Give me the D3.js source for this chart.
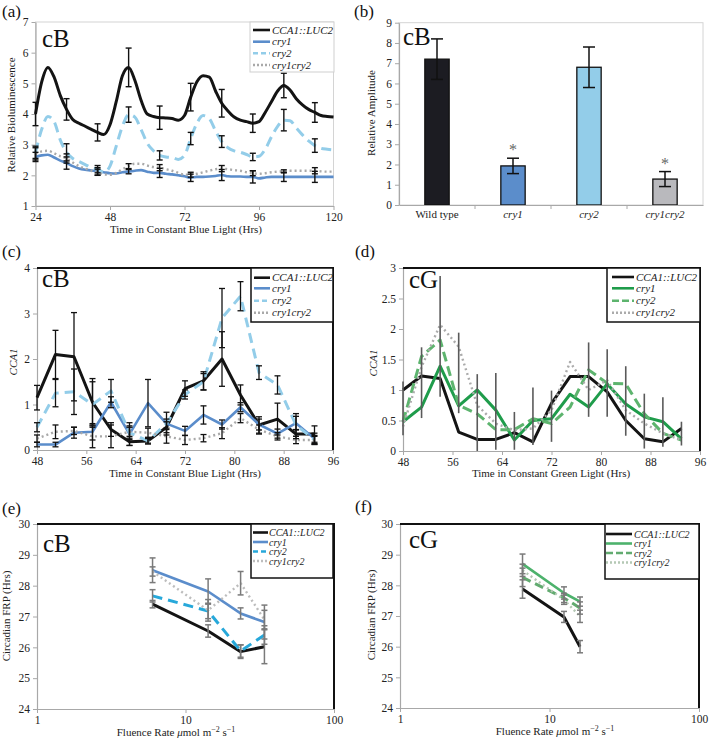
<!DOCTYPE html>
<html><head><meta charset="utf-8">
<script src="https://cdnjs.cloudflare.com/ajax/libs/d3/7.8.5/d3.min.js"></script>
<style>body{margin:0;background:#fff}svg{display:block}
svg text{font-family:"Liberation Serif","Times New Roman",Times,serif !important}</style>
</head><body>
<script>
// ---------------- DATA ----------------
const seriesNames = ["CCA1::LUC2", "cry1", "cry2", "cry1cry2"];

// (a) bioluminescence, constant blue light
const timeA = [24,26,28,30,32,34,36,38,40,42,44,46,48,50,52,54,56,58,60,62,64,66,68,70,72,74,76,78,80,82,84,86,88,90,92,94,96,98,100,102,104,106,108,110,112,114,116,118,120];
const wtA   = [4.0,5.05,5.52,5.2,4.6,4.15,3.82,3.7,3.6,3.5,3.4,3.33,3.65,4.4,5.25,5.52,5.1,4.45,4.0,3.92,3.88,3.87,3.85,3.8,3.95,4.55,5.05,5.25,5.2,4.75,4.35,4.1,3.9,3.8,3.75,3.7,3.75,4.05,4.4,4.75,4.93,4.78,4.5,4.3,4.15,4.05,3.95,3.92,3.9];
const cry1A = [2.6,2.65,2.67,2.58,2.48,2.4,2.3,2.22,2.18,2.16,2.13,2.1,2.07,2.06,2.1,2.12,2.15,2.17,2.12,2.08,2.08,2.05,2.03,2.0,1.97,1.92,1.95,1.95,1.96,1.98,2.01,1.97,1.96,1.96,1.95,1.95,1.9,1.93,1.95,1.95,1.95,1.95,1.95,1.95,1.95,1.95,1.95,1.95,1.95];
const cry2A = [2.75,3.5,3.92,3.75,3.15,2.75,2.55,2.45,2.35,2.25,2.2,2.1,2.3,2.95,3.6,3.98,3.9,3.5,3.05,2.8,2.65,2.6,2.58,2.52,2.65,3.2,3.7,3.95,3.85,3.45,3.1,2.9,2.8,2.75,2.68,2.6,2.62,2.85,3.25,3.6,3.8,3.78,3.55,3.32,3.12,2.97,2.88,2.85,2.83];
const dblA  = [2.7,2.78,2.8,2.72,2.62,2.55,2.42,2.3,2.22,2.15,2.1,2.03,2.02,2.08,2.2,2.3,2.38,2.38,2.32,2.27,2.25,2.2,2.15,2.08,2.02,2.02,2.05,2.1,2.15,2.2,2.22,2.2,2.17,2.15,2.1,2.07,2.05,2.07,2.1,2.12,2.13,2.15,2.15,2.15,2.15,2.15,2.13,2.12,2.12];
const errTimeA = [24,34,44,54,64,74,84,94,104,114];
const errWtA   = [0.38,0.35,0.28,0.63,0.38,0.45,0.45,0.3,0.4,0.32];
const errCry1A = [0.15,0.2,0.12,0.07,0.15,0.12,0.18,0.2,0.15,0.18];
const errCry2A = [0.2,0.28,0.12,0.25,0.15,0.2,0.19,0.12,0.35,0.22];
const errDblA  = [0.2,0.15,0.1,0.08,0.1,0.08,0.1,0.08,0.05,0.1];
const xTicksA = [24,48,72,96,120];
const yTicksA = [1,2,3,4,5,6,7];

// (b) relative amplitude
const genotypesB = ["Wild type", "cry1", "cry2", "cry1cry2"];
const ampB = [7.2, 1.93, 6.8, 1.28];
const errAmpB = [1.0, 0.38, 1.0, 0.37];
const sigB = [false, true, false, true];
const yTicksB = [0,1,2,3,4,5,6,7,8,9];

// (c) CCA1, constant blue light
const timeC = [48,51,54,57,60,63,66,69,72,75,78,81,84,87,90,93];
const wtC   = [1.15,2.1,2.05,1.05,0.45,0.18,0.2,0.5,1.35,1.52,2.0,1.21,0.55,0.68,0.35,0.35];
const cry1C = [0.12,0.12,0.38,0.4,1.05,0.35,1.03,0.58,0.42,0.77,0.56,0.94,0.56,0.36,0.59,0.25];
const cry2C = [0.5,1.25,1.28,1.0,1.3,0.38,0.2,0.58,1.22,1.5,2.9,3.38,1.7,1.43,0.55,0.22];
const dblC  = [0.25,0.4,0.42,0.3,0.3,0.4,0.38,0.3,0.22,0.26,0.37,0.7,0.45,0.3,0.22,0.22];
const errWtC   = [0.27,0.53,0.97,0.52,0.15,0.08,0.07,0.12,0.17,0.2,0.6,0.22,0.18,0.35,0.1,0.18];
const errCry1C = [0.05,0.05,0.12,0.18,0.12,0.25,0.52,0.25,0.1,0.2,0.1,0.1,0.12,0.1,0.15,0.12];
const errCry2C = [0.1,0.3,0.5,0.5,0.25,0.15,0.05,0.1,0.1,0.18,0.65,0.32,0.15,0.2,0.25,0.1];
const errDblC  = [0.08,0.15,0.08,0.25,0.25,0.1,0.1,0.15,0.1,0.08,0.12,0.1,0.1,0.08,0.08,0.08];
const xTicksCD = [48,56,64,72,80,88,96];
const yTicksC = [0,1,2,3,4];

// (d) CCA1, constant green light
const timeD = [48,51,54,57,60,63,66,69,72,75,78,81,84,87,90,93];
const wtD   = [1.0,1.23,1.19,0.31,0.19,0.19,0.3,0.15,0.78,1.22,1.22,0.97,0.5,0.2,0.15,0.37];
const cry1D = [0.48,0.72,1.39,0.74,1.0,0.67,0.18,0.5,0.53,0.93,0.72,1.1,0.77,0.56,0.48,0.2];
const cry2D = [0.48,1.55,1.82,0.75,0.61,0.35,0.35,0.53,0.45,0.72,1.33,1.11,1.1,0.61,0.29,0.18];
const dblD  = [0.4,1.38,2.07,1.71,0.75,0.45,0.34,0.37,0.67,1.46,1.0,1.16,0.67,0.45,0.29,0.18];
const errLowD  = [0.26,0.54,0.89,0.62,0.0,0.02,0.02,0.1,0.15,null,0.56,0.56,0.25,0.04,0.07,0.09];
const errHighD = [1.14,1.70,2.87,1.94,1.26,1.28,0.64,1.04,0.99,null,1.78,1.67,1.39,0.94,0.88,0.48];
const yTicksD = [0,0.5,1,1.5,2,2.5,3];

// (e) FRP, blue light
const fluenceE = [6, 14.2, 23.5, 34];
const wtE   = [27.4, 26.53, 25.86, 26.02];
const cry1E = [28.5, 27.81, 27.1, 26.82];
const cry2E = [27.67, 27.18, 25.88, 26.4];
const dblE  = [28.46, 27.2, 28.08, 26.9];
const errWtE   = [0.12, 0.2, 0.22, 0.55];
const errCry1E = [0.4, 0.41, 0.18, 0.55];
const errCry2E = [0.2, 0.25, 0.2, 0.3];
const errDblE  = [0.15, 0.35, 0.38, 0.3];

// (f) FRP, green light
const fluenceF = [6.6, 12.5, 16];
const wtF   = [27.88, 26.97, 26.0];
const cry1F = [28.7, 27.75, 27.47];
const cry2F = [28.26, 27.59, 27.26];
const dblF  = [28.49, 27.53, 26.99];
const errWtF   = [0.3, 0.18, 0.2];
const errCry1F = [0.32, 0.2, 0.15];
const errCry2F = [0.3, 0.15, 0.2];
const errDblF  = [0.2, 0.15, 0.2];
const xTicksEF = [1, 10, 100];
const yTicksEF = [24,25,26,27,28,29,30];

// ---------------- DRAWING ----------------
const SERIF = '"Liberation Serif","Times New Roman",Times,serif';
const svg = d3.select("body").append("svg").attr("width", 709).attr("height", 742)
  .attr("font-family", "Liberation Serif, serif");

const AXIS_COL = "#a8a8a8";

const blueStyles = [
  {color:"#141414", w:3, dash:null, ldash:null},
  {color:"#5b8dcb", w:2.6, dash:null, ldash:null},
  {color:"#93cde9", w:3, dash:"10,6", ldash:"5,3"},
  {color:"#a9a9a9", w:2.4, dash:"2,3", ldash:"2,2"}
];
const greenStyles = [
  {color:"#141414", w:3, dash:null, ldash:null},
  {color:"#1f9c4b", w:3, dash:null, ldash:null},
  {color:"#5db46e", w:3, dash:"10,5", ldash:"7,3"},
  {color:"#ababab", w:2.4, dash:"2,3", ldash:"2,2"}
];
const blueStylesE = [
  {color:"#141414", w:3, dash:null, ldash:null},
  {color:"#5b8dcb", w:2.6, dash:null, ldash:null},
  {color:"#27a8da", w:3, dash:"10,6", ldash:"5,3"},
  {color:"#bdbdbd", w:2.4, dash:"2,3", ldash:"2,2"}
];
const greenStylesF = [
  {color:"#141414", w:3, dash:null, ldash:null},
  {color:"#4db26c", w:2.6, dash:null, ldash:null},
  {color:"#62ab70", w:3, dash:"9,5", ldash:"7,3"},
  {color:"#b4c8b4", w:2.4, dash:"2,3", ldash:"2,2"}
];

function styleAxis(g) {
  g.attr("font-family", null);
  g.select(".domain").attr("stroke", AXIS_COL).attr("stroke-width", 1.2);
  g.selectAll(".tick line").attr("stroke", AXIS_COL);
  g.selectAll(".tick text").attr("fill", "#222").style("font-size", "11.5px");
}

function frame(r, color, width, full) {
  const g = svg.append("g");
  if (full) {
    g.append("rect").attr("x", r.x0).attr("y", r.y0).attr("width", r.x1 - r.x0).attr("height", r.y1 - r.y0)
      .attr("fill", "none").attr("stroke", color).attr("stroke-width", width);
  } else {
    g.append("path").attr("d", `M${r.x0},${r.y0}H${r.x1}V${r.y1}`)
      .attr("fill", "none").attr("stroke", color).attr("stroke-width", width);
  }
}

function axes(r, x, y, xTicks, yTicks, xFmt, yFmt) {
  const gy = svg.append("g").attr("transform", `translate(${r.x0},0)`)
    .call(d3.axisLeft(y).tickValues(yTicks).tickSize(4).tickSizeOuter(0).tickFormat(yFmt));
  styleAxis(gy);
  if (xTicks) {
    const gx = svg.append("g").attr("transform", `translate(0,${r.y1})`)
      .call(d3.axisBottom(x).tickValues(xTicks).tickSize(4).tickSizeOuter(0).tickFormat(xFmt));
    styleAxis(gx);
  }
}

function titles(r, xTitle, xTitleX, xTitleY, yTitle, yTitleX, yTitleY, yItalic) {
  if (xTitle) svg.append("text").attr("x", xTitleX).attr("y", xTitleY).attr("text-anchor", "middle")
    .style("font-size", "11px").attr("fill", "#222").text(xTitle);
  svg.append("text").attr("transform", `translate(${yTitleX},${yTitleY}) rotate(-90)`)
    .attr("text-anchor", "middle").style("font-size", "11px").attr("fill", "#222")
    .style("font-style", yItalic ? "italic" : "normal").text(yTitle);
}

function tag(x, y, s) {
  svg.append("text").attr("x", x).attr("y", y).style("font-size", "25px").attr("fill", "#111").text(s);
}
function letter(x, y, s) {
  svg.append("text").attr("x", x).attr("y", y).style("font-size", "17px").attr("fill", "#111").text(s);
}

function drawLines(xs, seriesList, styles, x, y, curve) {
  const line = d3.line().x((d, i) => x(xs[i])).y(d => y(d)).curve(curve || d3.curveLinear);
  seriesList.forEach((s, k) => {
    const st = styles[k];
    svg.append("path").datum(s).attr("d", line).attr("fill", "none")
      .attr("stroke", st.color).attr("stroke-width", st.w)
      .attr("stroke-linejoin", "round")
      .attr("stroke-dasharray", st.dash);
  });
}

function errBars(xsE, centers, errs, x, y, color, cap, width) {
  const g = svg.append("g").attr("stroke", color).attr("stroke-width", width || 1.5).attr("fill", "none");
  xsE.forEach((t, i) => {
    const c = centers[i], e = errs[i];
    const px = x(t), yt = y(c + e), yb = y(c - e);
    g.append("line").attr("x1", px).attr("x2", px).attr("y1", yt).attr("y2", yb);
    if (cap) {
      g.append("line").attr("x1", px - cap).attr("x2", px + cap).attr("y1", yt).attr("y2", yt);
      g.append("line").attr("x1", px - cap).attr("x2", px + cap).attr("y1", yb).attr("y2", yb);
    }
  });
}

function legend(box, rows, sx0, sx1, tx, styles, borderCol, borderW, fs) {
  const g = svg.append("g");
  g.append("rect").attr("x", box.x).attr("y", box.y).attr("width", box.w).attr("height", box.h)
    .attr("fill", "#fff").attr("stroke", borderCol).attr("stroke-width", borderW);
  seriesNames.forEach((n, i) => {
    const st = styles[i];
    g.append("line").attr("x1", sx0).attr("x2", sx1).attr("y1", rows[i]).attr("y2", rows[i])
      .attr("stroke", st.color).attr("stroke-width", Math.min(st.w, 2.6)).attr("stroke-dasharray", st.ldash);
    g.append("text").attr("x", tx).attr("y", rows[i] + 3.5).style("font-size", (fs || 11) + "px")
      .style("font-style", "italic").attr("fill", "#222").text(n);
  });
}

// ===== (a) =====
{
  const r = {x0:35.5, x1:333.5, y0:22, y1:206};
  const x = d3.scaleLinear().domain([24,120]).range([r.x0, r.x1]);
  const y = d3.scaleLinear().domain([1,7]).range([r.y1, r.y0]);
  frame(r, "#d4d4d4", 1, true);
  axes(r, x, y, xTicksA, yTicksA, d3.format("d"), d3.format("d"));
  const series = [wtA, cry1A, cry2A, dblA];
  drawLines(timeA, series, blueStyles, x, y, d3.curveMonotoneX);
  const errs = [errWtA, errCry1A, errCry2A, errDblA];
  [3,1,2,0].forEach(k => {
    const centers = errTimeA.map(t => series[k][timeA.indexOf(t)]);
    errBars(errTimeA, centers, errs[k], x, y, "#111", 3, 1.4);
  });
  legend({x:250, y:22, w:84, h:50}, [30, 41.7, 53.3, 65], 253, 270, 272, blueStyles, "#cfcfcf", 1, 11);
  tag(42, 47, "cB");
  letter(2, 17, "(a)");
  titles(r, "Time in Constant Blue Light (Hrs)", 186, 233, "Relative Bioluminescence", 15, 115, false);
}

// ===== (b) =====
{
  const r = {x0:399, x1:703, y0:22.7, y1:205};
  const x = d3.scaleBand().domain(genotypesB).range([r.x0, r.x1]).paddingInner(0).paddingOuter(0);
  const y = d3.scaleLinear().domain([0,9]).range([r.y1, r.y0]);
  frame(r, "#d4d4d4", 1, true);
  const bw = x.bandwidth() * 0.32;
  const colors = ["#1c1c22", "#5b8dcb", "#93cde9", "#b9b9bd"];
  genotypesB.forEach((gname, i) => {
    const cx = x(gname) + x.bandwidth() / 2;
    svg.append("rect").attr("x", cx - bw / 2).attr("y", y(ampB[i])).attr("width", bw)
      .attr("height", y(0) - y(ampB[i])).attr("fill", colors[i]).attr("stroke", "#111").attr("stroke-width", 1.3);
  });
  errBars(genotypesB, ampB, errAmpB, g => x(g) + x.bandwidth() / 2, y, "#111", 6, 1.5);
  genotypesB.forEach((gname, i) => {
    if (sigB[i]) svg.append("text").attr("x", x(gname) + x.bandwidth() / 2).attr("y", y(ampB[i] + errAmpB[i]) - 3)
      .attr("text-anchor", "middle").style("font-size", "16px").attr("fill", "#666").text("*");
  });
  const gy = svg.append("g").attr("transform", `translate(${r.x0},0)`)
    .call(d3.axisLeft(y).tickValues(yTicksB).tickSize(4).tickSizeOuter(0).tickFormat(d3.format("d")));
  styleAxis(gy);
  const gx = svg.append("g").attr("transform", `translate(0,${r.y1})`)
    .call(d3.axisBottom(x).tickSize(0).tickPadding(5).tickSizeOuter(0));
  styleAxis(gx);
  gx.selectAll(".tick text").style("font-size", "11px").style("font-style", d => d === "Wild type" ? "normal" : "italic");
  genotypesB.forEach((gname, i) => {
    if (i > 0) svg.append("line").attr("x1", x(gname)).attr("x2", x(gname)).attr("y1", r.y1).attr("y2", r.y1 + 4)
      .attr("stroke", AXIS_COL);
  });
  tag(403, 45, "cB");
  letter(354, 17, "(b)");
  titles(r, null, 0, 0, "Relative Amplitude", 375, 113, false);
}

// ===== (c) =====
{
  const r = {x0:37, x1:333, y0:268, y1:450};
  const x = d3.scaleLinear().domain([48,96]).range([r.x0, r.x1]);
  const y = d3.scaleLinear().domain([0,4]).range([r.y1, r.y0]);
  axes(r, x, y, xTicksCD, yTicksC, d3.format("d"), d3.format("d"));
  const series = [wtC, cry1C, cry2C, dblC];
  drawLines(timeC, series, blueStyles, x, y);
  const errs = [errWtC, errCry1C, errCry2C, errDblC];
  [3,1,2,0].forEach(k => errBars(timeC, series[k], errs[k], x, y, "#111", 3, 1.3));
  frame(r, "#111", 2, false);
  legend({x:251, y:268, w:82, h:54}, [277.7, 288.3, 300.7, 312.7], 254, 270, 272, blueStyles, "#111", 1.5, 11);
  tag(42, 287, "cB");
  letter(2, 257, "(c)");
  titles(r, "Time in Constant Blue Light (Hrs)", 185, 477, "CCA1", 17, 362, true);
}

// ===== (d) =====
{
  const r = {x0:403, x1:700, y0:268, y1:451};
  const x = d3.scaleLinear().domain([48,96]).range([r.x0, r.x1]);
  const y = d3.scaleLinear().domain([0,3]).range([r.y1, r.y0]);
  axes(r, x, y, xTicksCD, yTicksD, d3.format("d"), d3.format("~g"));
  const series = [wtD, cry1D, cry2D, dblD];
  drawLines(timeD, series, greenStyles, x, y);
  const g = svg.append("g").attr("stroke", "#5a5a5a").attr("stroke-width", 1.6);
  timeD.forEach((t, i) => {
    if (errLowD[i] === null) return;
    g.append("line").attr("x1", x(t)).attr("x2", x(t)).attr("y1", y(errHighD[i])).attr("y2", y(errLowD[i]));
  });
  frame(r, "#111", 2, false);
  legend({x:607, y:268, w:93, h:54}, [277, 288.3, 300.7, 312.7], 612, 634, 636, greenStyles, "#111", 1.5, 11);
  tag(409, 288, "cG");
  letter(355, 257, "(d)");
  titles(r, "Time in Constant Green Light (Hrs)", 551, 477, "CCA1", 377, 363, true);
}

function fluenceTitle(cx, by) {
  const t = svg.append("text").attr("x", cx).attr("y", by).attr("text-anchor", "middle")
    .style("font-size", "11px").attr("fill", "#222");
  t.append("tspan").text("Fluence Rate ");
  t.append("tspan").style("font-style", "italic").text("\u03bc");
  t.append("tspan").text("mol m");
  t.append("tspan").attr("dy", -4).style("font-size", "8px").text("\u22122");
  t.append("tspan").attr("dy", 4).text(" s");
  t.append("tspan").attr("dy", -4).style("font-size", "8px").text("\u22121");
}

// ===== (e) =====
{
  const r = {x0:37, x1:334, y0:524, y1:709};
  const x = d3.scaleLog().domain([1,100]).range([r.x0, r.x1]);
  const y = d3.scaleLinear().domain([24,30]).range([r.y1, r.y0]);
  axes(r, x, y, xTicksEF, yTicksEF, d3.format("d"), d3.format("d"));
  const series = [wtE, cry1E, cry2E, dblE];
  drawLines(fluenceE, series, blueStylesE, x, y);
  const errs = [errWtE, errCry1E, errCry2E, errDblE];
  [0,1,2,3].forEach(k => errBars(fluenceE, series[k], errs[k], x, y, "#7a7a7a", 3, 1.5));
  frame(r, "#111", 2, false);
  legend({x:251, y:524, w:82, h:54}, [532.5, 542, 551.5, 561], 253, 268, 269, blueStylesE, "#111", 1.5, 10);
  tag(43, 552, "cB");
  letter(2, 514, "(e)");
  fluenceTitle(176, 736);
  titles(r, null, 0, 0, "Circadian FRP (Hrs)", 10, 616, false);
}

// ===== (f) =====
{
  const r = {x0:400, x1:699, y0:524, y1:708};
  const x = d3.scaleLog().domain([1,100]).range([r.x0, r.x1]);
  const y = d3.scaleLinear().domain([24,30]).range([r.y1, r.y0]);
  axes(r, x, y, xTicksEF, yTicksEF, d3.format("d"), d3.format("d"));
  const series = [wtF, cry1F, cry2F, dblF];
  drawLines(fluenceF, series, greenStylesF, x, y);
  const errs = [errWtF, errCry1F, errCry2F, errDblF];
  [0,1,2,3].forEach(k => errBars(fluenceF, series[k], errs[k], x, y, "#7a7a7a", 3, 1.5));
  frame(r, "#111", 2, false);
  legend({x:605, y:524, w:94, h:55}, [534, 543.5, 553, 562.5], 606, 632, 634, greenStylesF, "#111", 1.5, 10);
  tag(409, 548, "cG");
  letter(355, 512, "(f)");
  fluenceTitle(555, 735);
  titles(r, null, 0, 0, "Circadian FRP (Hrs)", 375, 615, false);
}
</script>
</body></html>
